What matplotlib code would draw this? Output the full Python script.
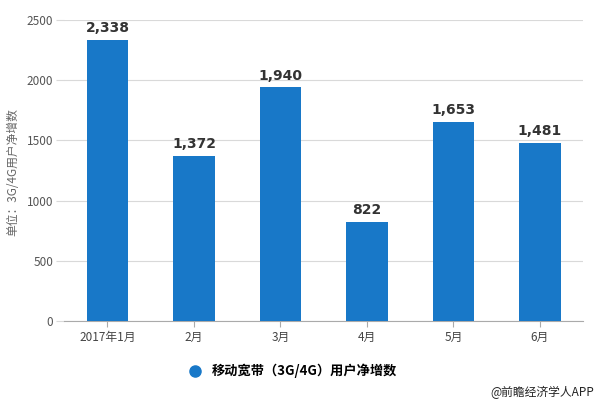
import matplotlib
matplotlib.use("Agg")
import matplotlib.pyplot as plt
from matplotlib.lines import Line2D

plt.rcParams['font.family'] = ['Noto Sans CJK SC', 'DejaVu Sans']

categories = ['2017年1月', '2月', '3月', '4月', '5月', '6月']
values = [2338, 1372, 1940, 822, 1653, 1481]
yticks = [0, 500, 1000, 1500, 2000, 2500]
series_name = '移动宽带（3G/4G）用户净增数'
ylabel = '单位：3G/4G用户净增数'
source = '@前瞻经济学人APP'

bar_color = '#1878C8'

fig = plt.figure(figsize=(6.0, 4.05), dpi=100)
ax = fig.add_axes([0.107, 0.2074, 0.865, 0.7432])

x = range(len(categories))
ax.bar(x, values, width=0.48, color=bar_color, zorder=3)
for i, v in enumerate(values):
    ax.text(i, v + 40, f'{v:,}', ha='center', va='bottom', fontsize=10,
            fontweight='bold', color='#333333', family=['DejaVu Sans'])

ax.set_xlim(-0.5, 5.5)
ax.set_ylim(0, 2500)
ax.set_yticks(yticks)
ax.set_yticklabels([str(t) for t in yticks])
ax.set_xticks(list(x))
ax.set_xticklabels(categories)
ax.grid(axis='y', color='#d9d9d9', linewidth=0.8, zorder=0)
for s in ['top', 'right', 'left']:
    ax.spines[s].set_visible(False)
ax.spines['bottom'].set_color('#aaaaaa')
ax.tick_params(axis='y', length=6, color='#d9d9d9', labelsize=8.5, labelcolor='#555555', pad=2)
ax.tick_params(axis='x', length=4, color='#aaaaaa', labelsize=8.5, labelcolor='#444444', pad=3)

fig.text(0.022, 0.575, ylabel, rotation=90, ha='center', va='center',
         fontsize=8.5, color='#666666')

handle = Line2D([], [], marker='o', linestyle='none', markersize=8,
                markerfacecolor=bar_color, markeredgecolor=bar_color)
fig.legend([handle], [series_name], loc='center', bbox_to_anchor=(0.482, 0.084),
           frameon=False, prop={'size': 9.5, 'weight': 'bold'}, handletextpad=0.3,
           borderaxespad=0)

fig.text(0.99, 0.03, source, ha='right', va='center', fontsize=8.5, color='#222222')

fig.savefig('out.png', dpi=100)
